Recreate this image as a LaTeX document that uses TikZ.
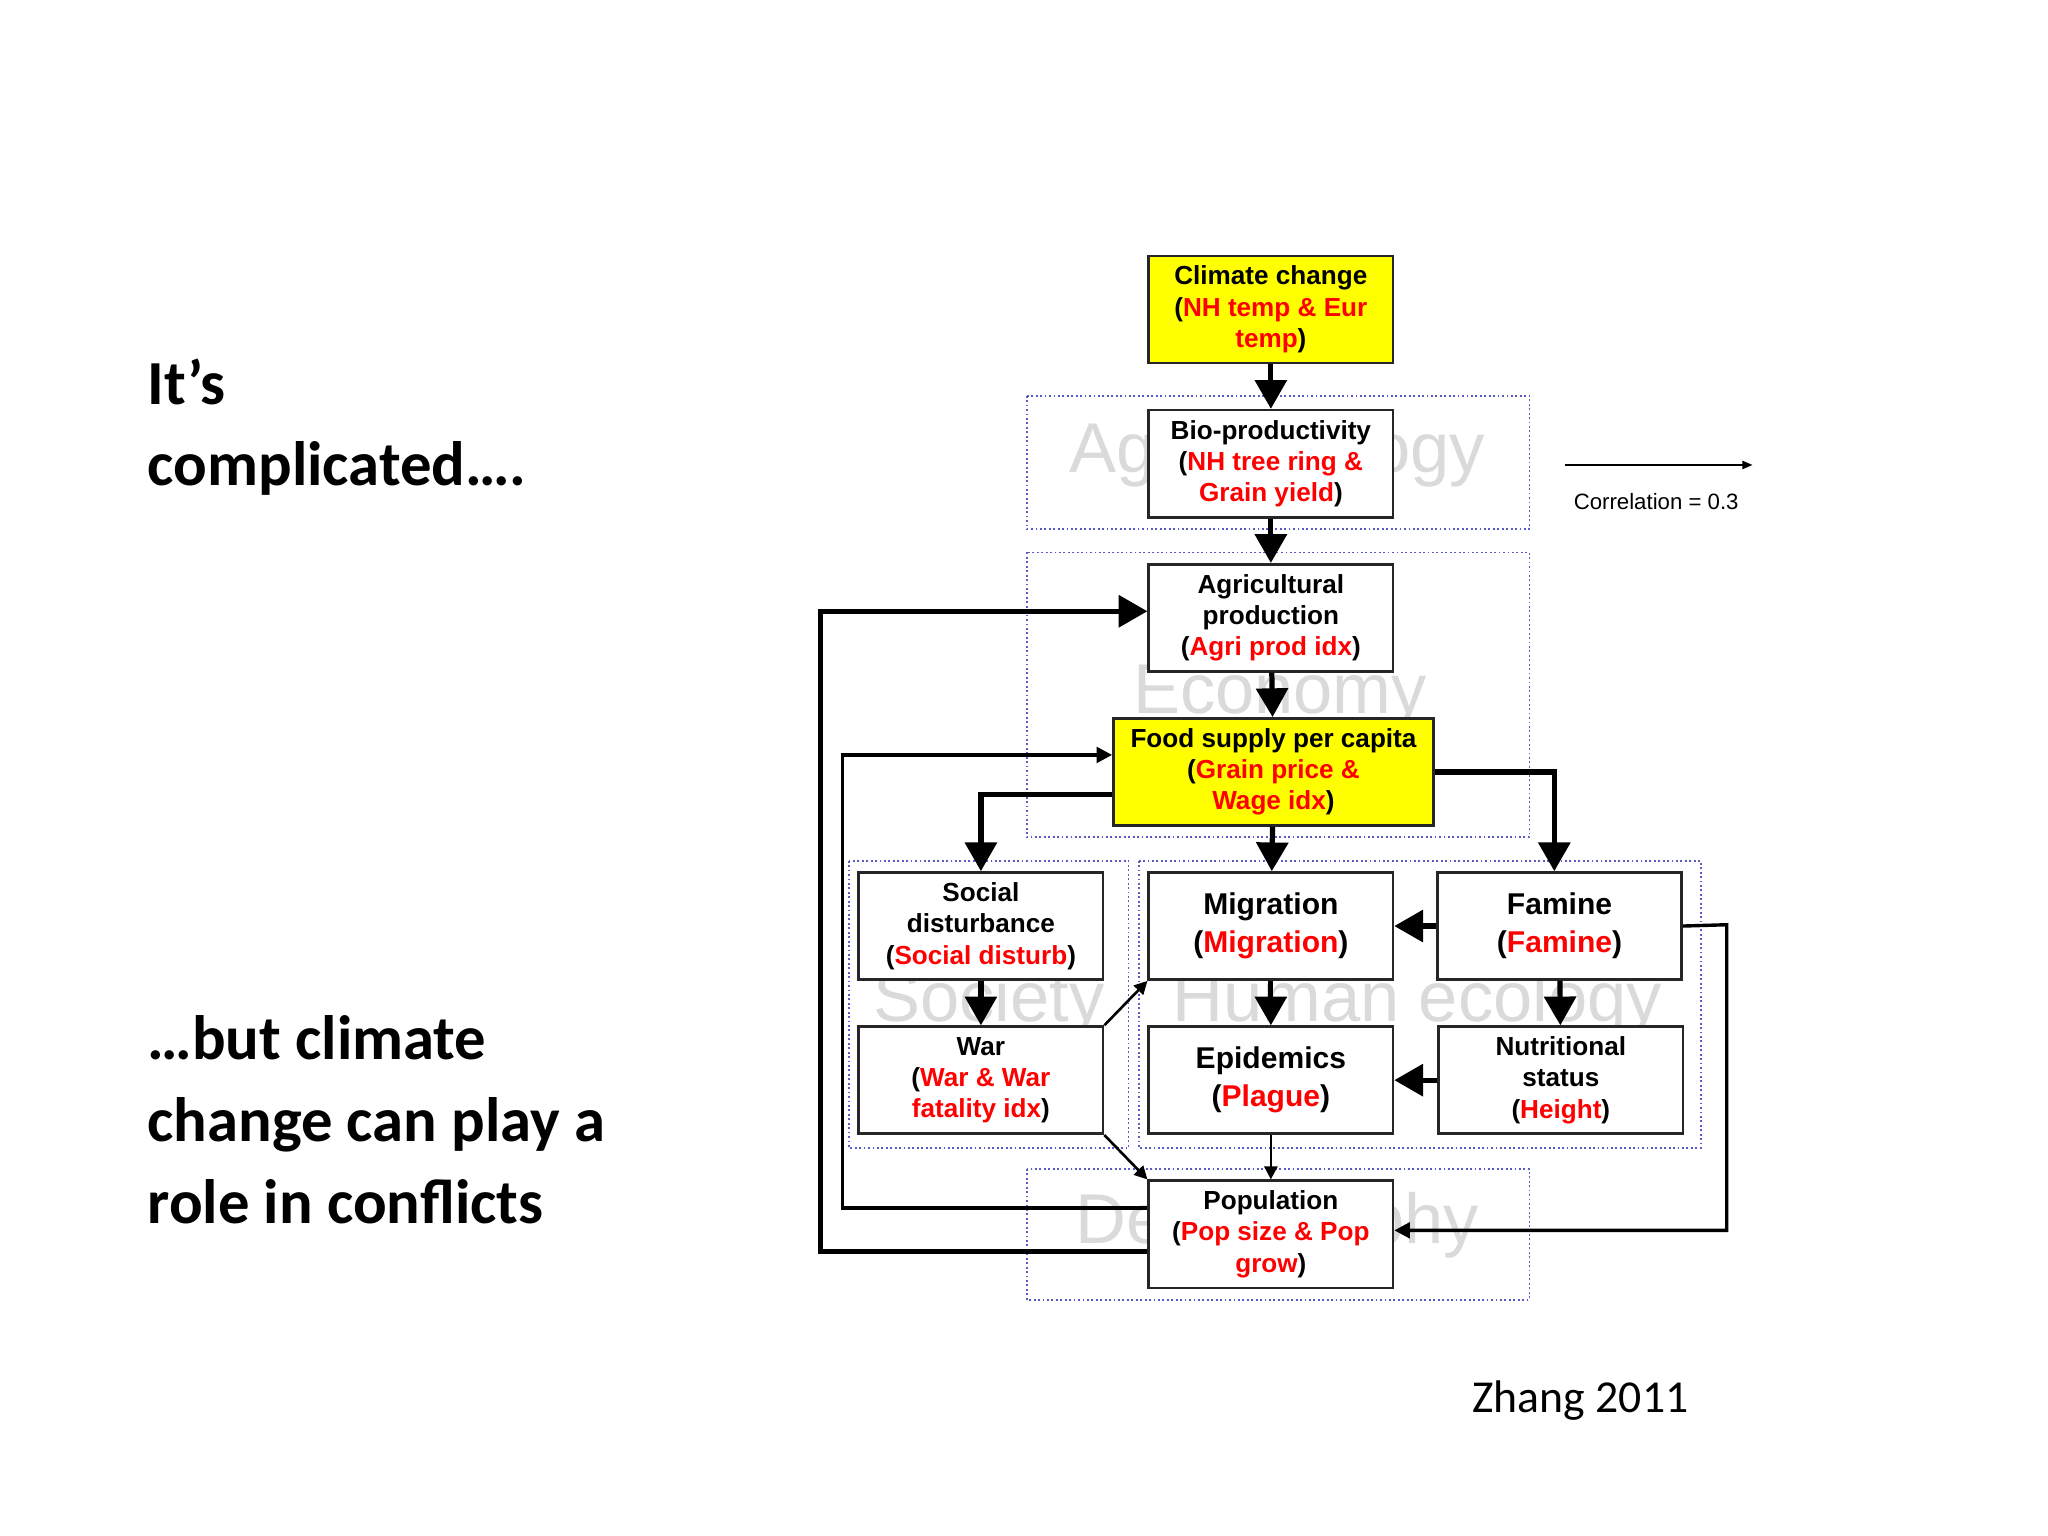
\documentclass[tikz,border=0pt]{standalone}
\usepackage{fontspec}
\setmainfont{Liberation Sans}
\newfontfamily\calib{Carlito}
\usetikzlibrary{arrows.meta}
\definecolor{wm}{RGB}{218,218,218}
\definecolor{dotb}{RGB}{90,90,200}
\definecolor{yel}{RGB}{255,255,0}
\begin{document}
\begin{tikzpicture}[x=0.5pt,y=-0.5pt,
  box/.style={draw=black!85,line width=1pt,fill=white,minimum width=93.5pt,minimum height=41pt,inner sep=0pt,align=center,font=\fontsize{10}{12}\selectfont\bfseries},
  ybox/.style={box,fill=yel},
  grp/.style={draw=dotb,densely dotted,line width=0.7pt},
  wmk/.style={text=wm,font=\fontsize{27}{30}\selectfont},
  big/.style={line width=2pt,-{Triangle[length=11pt,width=12pt]}},
  thin/.style={line width=1pt,-{Triangle[length=5pt,width=5pt]}},
  med/.style={line width=1.3pt,-{Triangle[length=6pt,width=6pt]}},
  lt/.style={anchor=base west,font=\calib\fontsize{24}{28}\selectfont\bfseries}]
\useasboundingbox (0,0) rectangle (1568,1176);
\fill[white] (0,0) rectangle (1568,1176);
% groups
\draw[grp] (786,303) rectangle (1171,405);
\draw[grp] (786,423) rectangle (1171,641);
\draw[grp] (650,659) rectangle (864,879);
\draw[grp] (872,659) rectangle (1302,879);
\draw[grp] (786,895) rectangle (1171,995);
% watermarks
\node[wmk] (w1) at (978,348) {Agro-ecology};
\node[wmk] (w2) at (980,533) {Economy};
\node[wmk] (w3) at (757,768) {Society};
\node[wmk] (w4) at (1085,768) {Human ecology};
\node[wmk] (w5) at (978,938) {Demography};
% boxes
\newcommand{\rd}[1]{\textcolor{red}{#1}}
\node[ybox] (cl) at (973,237) {Climate change\\(\rd{NH temp \& Eur}\\\rd{temp})};
\node[box] (bio) at (973,355) {Bio-productivity\\(\rd{NH tree ring \&}\\\rd{Grain yield})};
\node[box] (agr) at (973,473) {Agricultural\\production\\(\rd{Agri prod idx})};
\node[ybox,minimum width=122.5pt] (food) at (975,591) {Food supply per capita\\(\rd{Grain price \&}\\\rd{Wage idx})};
\node[box] (soc) at (751,709) {Social\\disturbance\\(\rd{Social disturb})};
\node[box] (war) at (751,827) {War\\(\rd{War \& War}\\\rd{fatality idx})};
\node[box,font=\fontsize{11.5}{14.5}\selectfont\bfseries] (mig) at (973,709) {Migration\\(\rd{Migration})};
\node[box,font=\fontsize{11.5}{14.5}\selectfont\bfseries] (fam) at (1194,709) {Famine\\(\rd{Famine})};
\node[box,font=\fontsize{11.5}{14.5}\selectfont\bfseries] (epi) at (973,827) {Epidemics\\(\rd{Plague})};
\node[box] (nut) at (1195,827) {Nutritional\\status\\(\rd{Height})};
\node[box] (pop) at (973,945) {Population\\(\rd{Pop size \& Pop}\\\rd{grow})};
% arrows
\draw[big] (cl) -- (bio);
\draw[big] (bio) -- (agr);
\draw[big] (agr) -- (food);
\draw[big] (food) -- (mig);
\draw[big] (food.west |- 0,608) -| (soc.north);
\draw[big] (food.east |- 0,591) -| ([xshift=-2pt]fam.north);
\draw[big] (soc) -- (war);
\draw[big] (mig) -- (epi);
\draw[big] (fam) -- (nut);
\draw[big] (fam) -- (mig);
\draw[big] (nut) -- (epi);
\draw[thin] (epi) -- (pop);
\draw[thin] (war.north east) -- (mig.south west);
\draw[thin] (war.south east) -- (pop.north west);
\draw[med] (fam.east) -- (1322,708) -- (1322,942) -- (pop.east |- 0,942);
\draw[med] (pop.west |- 0,925) -- (645,925) -- (645,578) -- (food.west |- 0,578);
\draw[big] (pop.west |- 0,958) -- (628,958) -- (628,468) -- (agr.west |- 0,468);
% legend
\coordinate (la) at (1198,356); \coordinate (lb) at (1342,356);
\draw[line width=1pt,-{Triangle[length=4pt,width=3pt]}] (la) -- (lb);
\node[font=\fontsize{8.5}{10}\selectfont] (lg) at (1268,384) {Correlation = 0.3};
% left texts
\node[lt] (t1) at (106,310) {It’s};
\node[lt] (t2) at (106,372) {complicated….};
\node[lt] (t3) at (106,811) {…but climate};
\node[lt] (t4) at (106,874) {change can play a};
\node[lt] (t5) at (106,937) {role in conflicts};
\node[font=\calib\fontsize{17.5}{20}\selectfont] (z) at (1210,1072) {Zhang 2011};
\end{tikzpicture}
\end{document}
